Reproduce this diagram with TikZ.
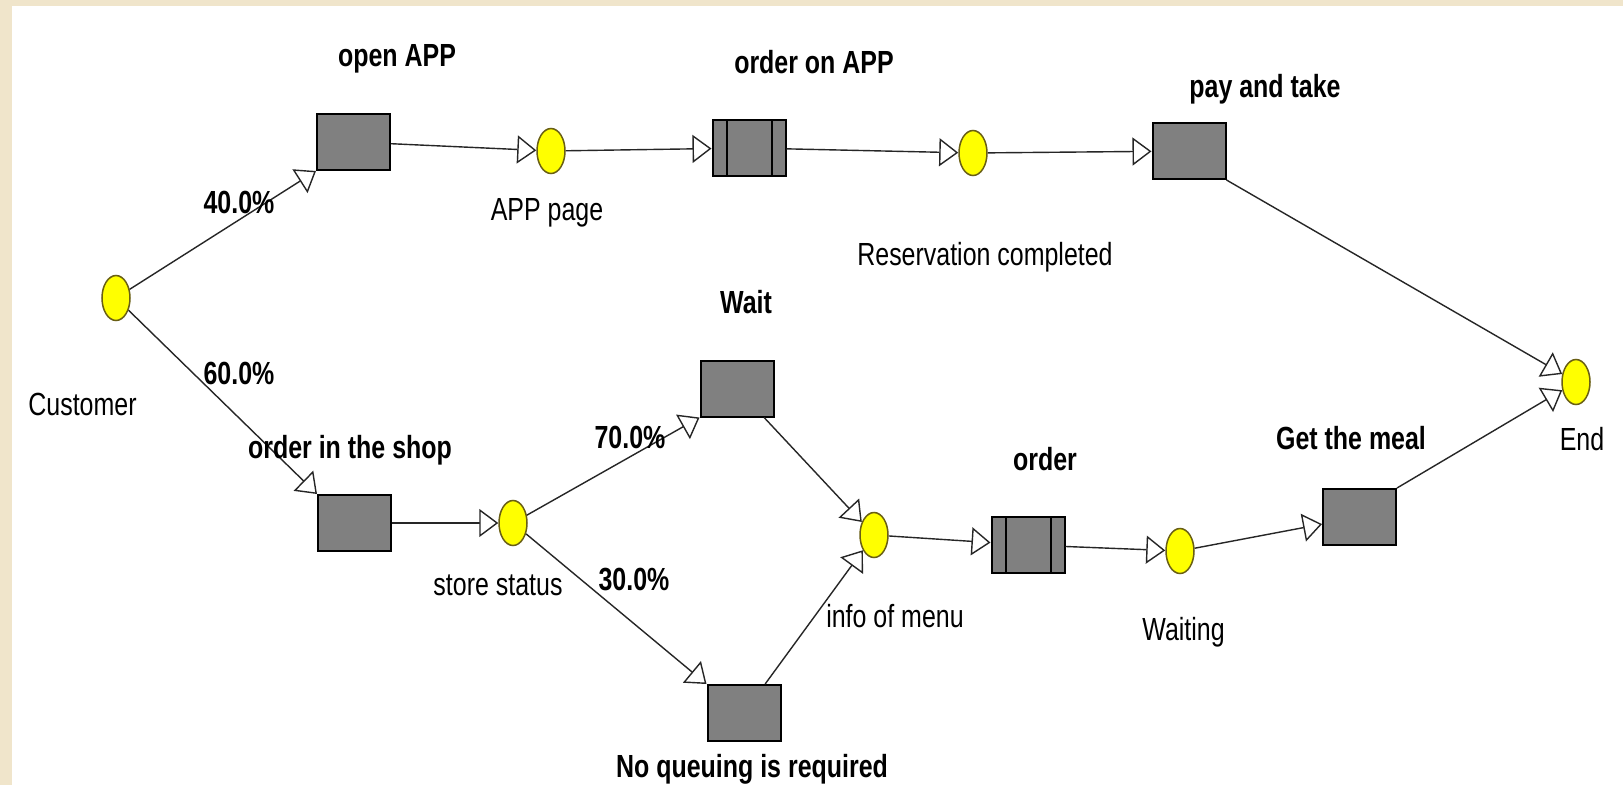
\documentclass[tikz,border=0pt]{standalone}
\usepackage{fontspec}
\setmainfont[FakeStretch=0.78]{Liberation Sans}
\usetikzlibrary{arrows.meta,shapes.geometric}
\definecolor{paper}{RGB}{240,229,203}
\definecolor{boxgray}{RGB}{128,128,128}
\definecolor{placeyellow}{RGB}{255,255,0}
\definecolor{placeedge}{RGB}{105,95,20}
\begin{document}
\begin{tikzpicture}
[x=1pt,y=-1pt,
yellownode/.style={ellipse,draw=placeedge,line width=1.5pt,fill=placeyellow,minimum width=28pt,minimum height=45pt,inner sep=0pt},
graynode/.style={rectangle,draw=black,line width=2pt,fill=boxgray,minimum width=73pt,minimum height=56pt,inner sep=0pt},
splitnode/.style={graynode,path picture={
  \draw[line width=2pt] ([xshift=14pt]path picture bounding box.north west) -- ([xshift=14pt]path picture bounding box.south west);
  \draw[line width=2pt] ([xshift=-14pt]path picture bounding box.north east) -- ([xshift=-14pt]path picture bounding box.south east);}},
nametext/.style={anchor=base,inner sep=0pt,font=\fontsize{32}{38}\selectfont},
boldtext/.style={nametext,font=\fontsize{32}{38}\selectfont\bfseries},
flow/.style={draw=black!85,line width=1.4pt,-{Triangle[fill=white,length=19pt,width=28pt]}}]
\useasboundingbox (0,0) rectangle (1623,785);
\fill[paper] (0,0) rectangle (1623,785);
\fill[white] (12,6) rectangle (1623,785);
\node[yellownode] (customer) at (116,298) {};
\node[graynode] (openapp) at (353.5,142) {};
\node[yellownode] (apppage) at (551,151) {};
\node[splitnode] (orderapp) at (749,148) {};
\node[yellownode] (reserved) at (973,153) {};
\node[graynode] (paytake) at (1189,151) {};
\node[yellownode] (finish) at (1576,382) {};
\node[graynode] (shop) at (354.5,523) {};
\node[yellownode] (store) at (513,523) {};
\node[graynode] (wait) at (737,388.5) {};
\node[graynode] (noqueue) at (744,713) {};
\node[yellownode] (menu) at (874,535) {};
\node[splitnode] (order) at (1028,545) {};
\node[yellownode] (waiting) at (1180,551) {};
\node[graynode] (meal) at (1359.5,517) {};
\draw[flow] (customer) -- (openapp.south west);
\draw[flow] (customer) -- (shop.north west);
\draw[flow] (openapp) -- (apppage);
\draw[flow] (apppage) -- (orderapp);
\draw[flow] (orderapp) -- (reserved);
\draw[flow] (reserved) -- (paytake);
\draw[flow] (paytake.south east) -- (finish);
\draw[flow] (shop) -- (store);
\draw[flow] (store) -- (wait.south west);
\draw[flow] (store) -- (noqueue.north west);
\draw[flow] (wait) -- (menu);
\draw[flow] (noqueue) -- (menu);
\draw[flow] (menu) -- (order);
\draw[flow] (order) -- (waiting);
\draw[flow] (waiting) -- (meal);
\draw[flow] (meal.north east) -- (finish);
\node[boldtext] (t-openapp) at (397,66) {open APP};
\node[nametext] (t-apppage) at (547,220) {APP page};
\node[boldtext] (t-orderapp) at (814,73) {order on APP};
\node[nametext] (t-reserved) at (985,265) {Reservation completed};
\node[boldtext] (t-paytake) at (1265,97) {pay and take};
\node[nametext] (t-finish) at (1582,450) {End};
\node[nametext] (t-customer) at (82.5,415) {Customer};
\node[boldtext] (p40) at (239,213) {40.0\%};
\node[boldtext] (p60) at (239,384) {60.0\%};
\node[boldtext] (t-shop) at (350,458) {order in the shop};
\node[nametext] (t-store) at (498,595) {store status};
\node[boldtext] (p70) at (630,448) {70.0\%};
\node[boldtext] (p30) at (634,590) {30.0\%};
\node[boldtext] (t-wait) at (746,313) {Wait};
\node[nametext] (t-menu) at (895,627) {info of menu};
\node[boldtext] (t-noqueue) at (752,777) {No queuing is required};
\node[boldtext] (t-order) at (1045,470) {order};
\node[nametext] (t-waiting) at (1183.5,640) {Waiting};
\node[boldtext] (t-meal) at (1351,449) {Get the meal};
\end{tikzpicture}
\end{document}
